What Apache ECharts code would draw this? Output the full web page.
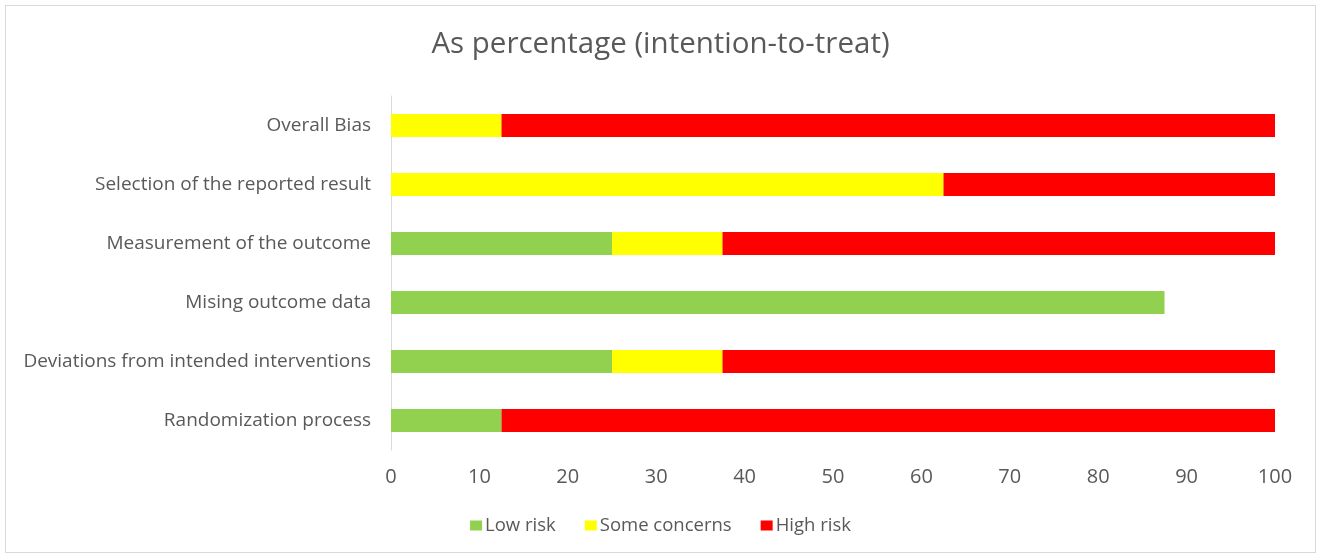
<!DOCTYPE html>
<html>
<head>
<meta charset="utf-8">
<script src="https://cdn.jsdelivr.net/npm/echarts@6/dist/echarts.min.js"></script>
<style>
html,body{margin:0;padding:0;background:#fff;}
#frame{position:absolute;left:5px;top:5px;width:1311px;height:548px;border:1px solid #d9d9d9;box-sizing:border-box;}
#chart{position:absolute;left:0;top:0;width:1321px;height:559px;}
</style>
</head>
<body>
<div id="frame"></div>
<div id="chart"></div>
<script>
const categories = ["Randomization process","Deviations from intended interventions","Mising outcome data","Measurement of the outcome","Selection of the reported result","Overall Bias"];
const lowRisk = [12.5, 25, 87.5, 25, 0, 0];
const someConcerns = [0, 12.5, 0, 12.5, 62.5, 12.5];
const highRisk = [87.5, 62.5, 0, 62.5, 37.5, 87.5];
const xTicks = [0,10,20,30,40,50,60,70,80,90,100];

const font = "'Open Sans', sans-serif";
const chart = echarts.init(document.getElementById('chart'), null, {renderer:'canvas'});
function s(name, data, color){
  return {name, type:'bar', stack:'total', data, barWidth:23, itemStyle:{color}, emphasis:{disabled:true}};
}
chart.setOption({
  animation:false,
  title:{text:'As percentage (intention-to-treat)', left:'center', top:25,
    textStyle:{fontFamily:font, fontSize:29.5, fontWeight:'normal', color:'#595959'}},
  grid:{left:391, right:46, top:96, bottom:109, containLabel:false},
  legend:{bottom:19, left:'center', itemWidth:12, itemHeight:10, itemGap:29,
    icon:'rect', textStyle:{fontFamily:font, fontSize:18.5, color:'#595959', padding:[0,0,0,-2]},
    data:['Low risk','Some concerns','High risk']},
  xAxis:{type:'value', min:0, max:100, interval:10,
    axisLabel:{fontFamily:font, fontSize:20, color:'#595959', margin:17,
      formatter:v=> xTicks.includes(v)? String(v):''},
    axisLine:{show:false}, axisTick:{show:false}, splitLine:{show:false}},
  yAxis:{type:'category', data:categories,
    axisLabel:{fontFamily:font, fontSize:19, color:'#595959', margin:20},
    axisLine:{show:true, lineStyle:{color:'#d9d9d9'}}, axisTick:{show:false}},
  series:[s('Low risk', lowRisk, '#92D050'), s('Some concerns', someConcerns, '#FFFF00'), s('High risk', highRisk, '#FF0000')]
});
</script>
</body>
</html>
